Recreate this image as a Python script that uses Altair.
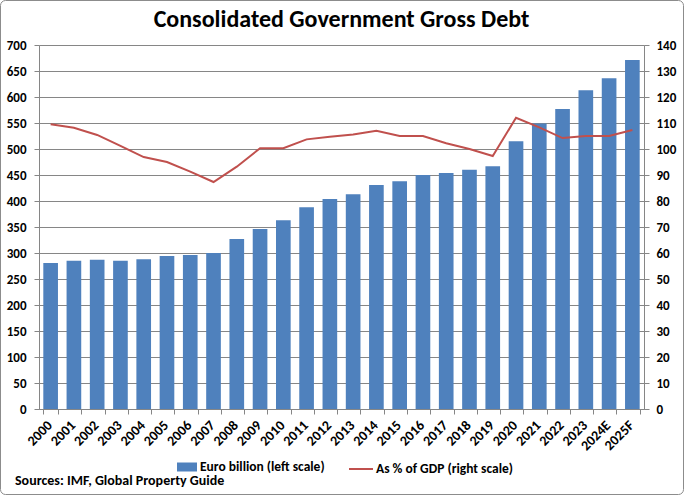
import altair as alt
import pandas as pd

years = ["2000", "2001", "2002", "2003", "2004", "2005", "2006", "2007", "2008", "2009",
         "2010", "2011", "2012", "2013", "2014", "2015", "2016", "2017", "2018", "2019",
         "2020", "2021", "2022", "2023", "2024E", "2025F"]
debt_eur_bn = [281, 285, 287, 285, 288, 294, 296, 300, 327, 346,
               363, 388, 404, 413, 431, 438, 450, 454, 460, 467,
               515, 549, 577, 613, 636, 671]
debt_pct_gdp = [109.5, 108.2, 105.4, 101.2, 96.9, 95.0, 91.3, 87.3, 93.2, 100.3,
                100.3, 103.7, 104.7, 105.6, 107.0, 105.0, 105.0, 102.2, 100.0, 97.3,
                112.0, 108.3, 104.2, 105.0, 105.0, 107.3]
bar_label = "Euro billion (left scale)"
line_label = "As % of GDP (right scale)"
title_text = "Consolidated Government Gross Debt"
source_text = "Sources: IMF, Global Property Guide"

FONT = "Carlito, Lato, Liberation Sans, sans-serif"
BLUE = "#4F81BD"
RED = "#C0504D"
GRID = "#868686"

df = pd.DataFrame({"year": years, "debt": debt_eur_bn, "pct": debt_pct_gdp,
                   "s1": bar_label, "s2": line_label})

xenc = alt.X("year:N", sort=years, title=None,
             scale=alt.Scale(paddingInner=0.37, paddingOuter=0.185),
             axis=alt.Axis(labelAngle=-45, labelAlign="right", labelBaseline="middle",
                           tickBand="extent", tickSize=5, tickColor=GRID,
                           domainColor=GRID, labelFont=FONT, labelFontSize=14,
                           labelFontWeight="bold", labelColor="black",
                           labelPadding=9, labelOffset=-1, grid=False))

bars = alt.Chart(df).mark_bar().encode(
    x=xenc,
    y=alt.Y("debt:Q", title=None, scale=alt.Scale(domain=[0, 700], nice=False),
            axis=alt.Axis(values=list(range(0, 701, 50)), grid=True, gridColor=GRID,
                          gridOpacity=1, domainColor=GRID, tickColor=GRID, tickSize=5,
                          labelFont=FONT, labelFontSize=13, labelFontWeight="bold",
                          labelColor="black", labelPadding=8)),
    color=alt.Color("s1:N", scale=alt.Scale(range=[BLUE]),
                    legend=alt.Legend(title=None, orient="none", legendX=137, legendY=411,
                                      symbolType="M-1,-0.45L1,-0.45L1,0.45L-1,0.45Z",
                                      symbolSize=400, labelFont=FONT, labelFontSize=13.5,
                                      labelFontWeight="bold", labelColor="black",
                                      labelOffset=2)),
)

line = alt.Chart(df).mark_line(strokeWidth=2).encode(
    x=xenc,
    y=alt.Y("pct:Q", title=None, scale=alt.Scale(domain=[0, 140], nice=False),
            axis=alt.Axis(orient="right", values=list(range(0, 141, 10)), grid=False,
                          domainColor=GRID, tickColor=GRID, tickSize=5,
                          labelFont=FONT, labelFontSize=13, labelFontWeight="bold",
                          labelColor="black", labelPadding=7)),
    stroke=alt.Stroke("s2:N", scale=alt.Scale(range=[RED]),
                      legend=alt.Legend(title=None, orient="none", legendX=309, legendY=411,
                                        symbolType="stroke", symbolSize=576,
                                        symbolStrokeWidth=2, labelFont=FONT,
                                        labelFontSize=13.5, labelFontWeight="bold",
                                        labelColor="black", labelOffset=2)),
)

title = alt.Chart(pd.DataFrame({"t": [title_text]})).mark_text(
    align="center", baseline="middle", font=FONT, fontSize=24, fontWeight="bold",
    color="black").encode(text="t:N", x=alt.value(302.5), y=alt.value(-25))

src = alt.Chart(pd.DataFrame({"t": [source_text]})).mark_text(
    align="left", baseline="middle", font=FONT, fontSize=14, fontWeight="bold",
    color="black").encode(text="t:N", x=alt.value(-24), y=alt.value(436))

border = alt.Chart(pd.DataFrame({"t": [1]})).mark_rect(
    fill=None, stroke="#8c8c8c", strokeWidth=1, cornerRadius=5).encode(
    x=alt.value(-38.5), x2=alt.value(644.5), y=alt.value(-44.5), y2=alt.value(449.5))

chart = alt.layer(bars, line, title, src, border).resolve_scale(
    y="independent", color="independent", stroke="independent"
).properties(
    width=605, height=364,
    autosize=alt.AutoSizeParams(type="none"),
    padding={"left": 39, "top": 45, "right": 40, "bottom": 87},
).configure_view(stroke=None).configure(background="white")

chart.save("out.html", embed_options={"renderer": "svg", "actions": False})
